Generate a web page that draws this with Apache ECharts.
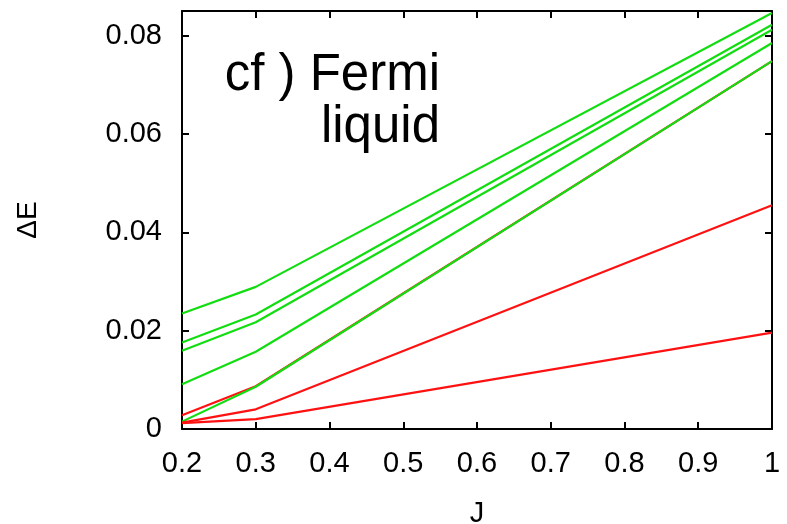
<!DOCTYPE html>
<html>
<head>
<meta charset="utf-8">
<script src="https://cdn.jsdelivr.net/npm/echarts@6/dist/echarts.min.js"></script>
<style>
  html, body { margin: 0; padding: 0; background: #fff; }
  #chart { width: 787px; height: 524px; }
</style>
</head>
<body>
<div id="chart"></div>
<script>
// J values where the curves are sampled
var jValues = [0.2, 0.3, 1.0];
// green curves, top to bottom
var green1 = [0.0235, 0.0289, 0.0846];
var green2 = [0.0176, 0.0233, 0.0822];
var green3 = [0.0159, 0.0217, 0.0812];
var green4 = [0.0091, 0.0157, 0.0785];
var green5 = [0.0015, 0.0086, 0.0748];
// red curves
var red1 = [0.0028, 0.0087, 0.0748];
var red2 = [0.0013, 0.0040, 0.0455];
var red3 = [0.0012, 0.0020, 0.0196];
var xTicks = ['0.2', '0.3', '0.4', '0.5', '0.6', '0.7', '0.8', '0.9', '1'];
var yTicks = ['0', '0.02', '0.04', '0.06', '0.08'];

var GREEN = '#11dd11';
var RED = '#ff1111';
var FONT = 'Liberation Sans, Arial, sans-serif';

function pairs(vals) {
    return jValues.map(function (j, i) { return [j, vals[i]]; });
}
function line(name, vals, color, z) {
    return {
        name: name,
        type: 'line',
        data: pairs(vals),
        showSymbol: false,
        symbol: 'none',
        z: z,
        lineStyle: { color: color, width: 2.2 },
        animation: false
    };
}

var chart = echarts.init(document.getElementById('chart'));

var axisLine = { show: true, onZero: false, lineStyle: { color: '#000', width: 2 } };
var axisTick = { show: true, inside: true, length: 7, lineStyle: { color: '#000', width: 2 } };

chart.setOption({
    backgroundColor: '#fff',
    animation: false,
    grid: { left: 182, right: 15, top: 11, bottom: 95, containLabel: false, outerBoundsMode: 'none' },
    xAxis: [
        {
            type: 'value', min: 0.2, max: 1, interval: 0.1,
            axisLine: axisLine, axisTick: axisTick, splitLine: { show: false },
            axisLabel: {
                color: '#000', fontSize: 29, fontFamily: FONT, margin: 20,
                formatter: function (v) {
                    var i = Math.round((v - 0.2) * 10);
                    return xTicks[i] !== undefined ? xTicks[i] : '';
                }
            },
            name: 'J', nameLocation: 'middle', nameGap: 70,
            nameTextStyle: { color: '#000', fontSize: 29, fontFamily: FONT }
        },
        {
            type: 'value', min: 0.2, max: 1, interval: 0.1, position: 'top',
            axisLine: axisLine, axisTick: axisTick, splitLine: { show: false },
            axisLabel: { show: false }
        }
    ],
    yAxis: [
        {
            type: 'value', min: 0, max: 0.085, interval: 0.02,
            axisLine: axisLine, axisTick: axisTick, splitLine: { show: false },
            axisLabel: {
                color: '#000', fontSize: 29, fontFamily: FONT, margin: 20,
                showMaxLabel: false,
                formatter: function (v) {
                    var i = Math.round(v / 0.02);
                    return yTicks[i] !== undefined ? yTicks[i] : '';
                }
            },
            name: 'ΔE', nameLocation: 'middle', nameGap: 140,
            nameTextStyle: { color: '#000', fontSize: 28, fontFamily: FONT }
        },
        {
            type: 'value', min: 0, max: 0.085, interval: 0.02, position: 'right',
            axisLine: axisLine, axisTick: axisTick, splitLine: { show: false },
            axisLabel: { show: false }
        }
    ],
    graphic: [
        {
            type: 'text', x: 440, y: 76,
            style: { text: 'cf ) Fermi', fill: '#000', font: '51px ' + FONT, textAlign: 'right', textVerticalAlign: 'middle' }
        },
        {
            type: 'text', x: 440, y: 128,
            style: { text: 'liquid', fill: '#000', font: '51px ' + FONT, textAlign: 'right', textVerticalAlign: 'middle' }
        }
    ],
    series: [
        line('red1', red1, RED, 1),
        line('green1', green1, GREEN, 2),
        line('green2', green2, GREEN, 2),
        line('green3', green3, GREEN, 2),
        line('green4', green4, GREEN, 2),
        line('green5', green5, GREEN, 2),
        line('red2', red2, RED, 3),
        line('red3', red3, RED, 3)
    ]
});
</script>
</body>
</html>
